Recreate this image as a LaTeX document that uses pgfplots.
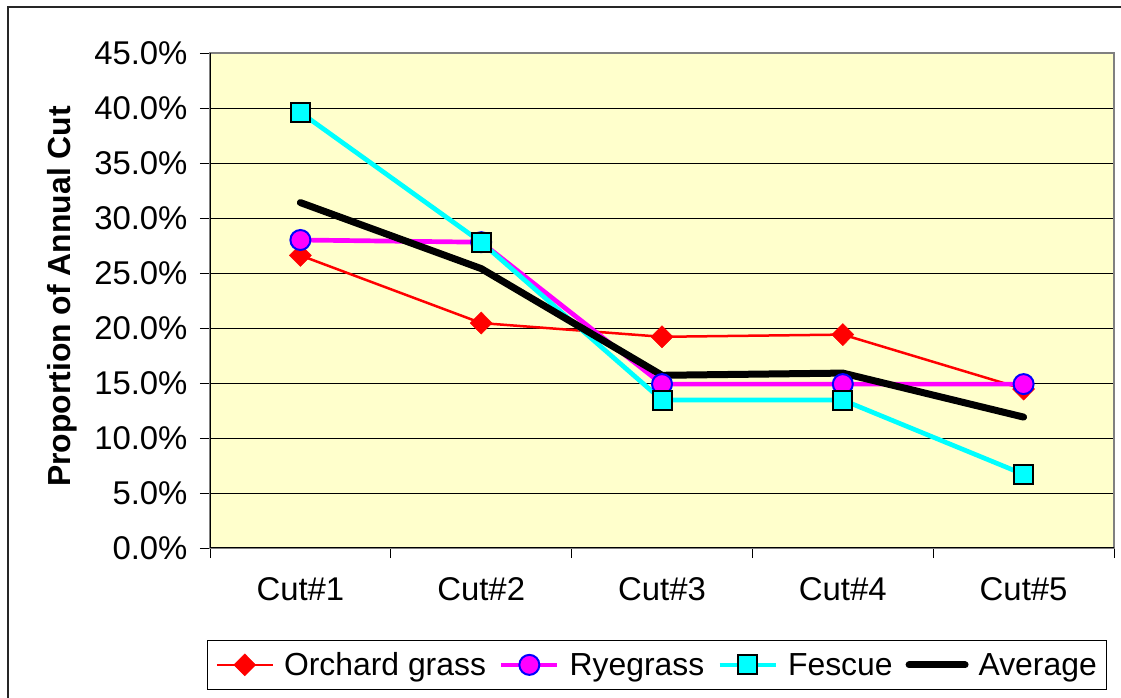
\documentclass[border=0pt]{standalone}
\usepackage{fontspec}
\setmainfont{Liberation Sans}
\usepackage{pgfplots}
\pgfplotsset{compat=1.18}
\definecolor{bgyellow}{HTML}{FFFFCC}
\definecolor{xred}{HTML}{FF0000}
\definecolor{xmag}{HTML}{FF00FF}
\definecolor{xcyan}{HTML}{00FFFF}
\definecolor{xblue}{HTML}{0000FF}
\begin{document}
\begin{tikzpicture}
\path[use as bounding box] (0,0) rectangle (1121bp,698bp);
\draw[line width=1.5bp, black!85] (8bp,0) -- (8bp,691bp) -- (1121bp,691bp);
\begin{axis}[
  at={(210bp,150bp)}, anchor=south west,
  scale only axis, width=904bp, height=495bp,
  xmin=0.5, xmax=5.5, ymin=0, ymax=45,
  axis background/.style={fill=bgyellow},
  axis line style={draw=gray, line width=1.2bp},
  /pgf/number format/assume math mode=true,
  ytick={0,5,...,45},
  yticklabel={\pgfmathprintnumber[fixed,fixed zerofill,precision=1]{\tick}\%},
  yticklabel style={xshift=-9bp, font=\fontsize{33}{39}\selectfont},
  ymajorgrids, grid style={black, line width=1bp},
  tick align=outside,
  xtick pos=bottom, ytick pos=left,
  major tick length=10bp, minor tick length=10bp,
  ytick style={black, line width=1bp},
  xtick={1,2,3,4,5},
  xticklabels={Cut\#1,Cut\#2,Cut\#3,Cut\#4,Cut\#5},
  major x tick style={draw=none},
  minor xtick={0.5,1.5,2.5,3.5,4.5,5.5},
  minor x tick style={black, line width=1bp},
  xticklabel style={yshift=-16bp, font=\fontsize{33}{39}\selectfont},
  ylabel={\bfseries Proportion of Annual Cut},
  every axis y label/.style={at={(axis description cs:-0.1637,0.508)}, rotate=90, anchor=center, font=\fontsize{32}{38}\selectfont},
  legend columns=4,
  legend style={at={(rel axis cs:-0.0033,-0.186)}, anchor=north west, draw=black, line width=1bp,
    font=\fontsize{32}{38}\selectfont, inner xsep=8bp, inner ysep=3.5bp,
    nodes={inner xsep=2bp, inner ysep=8.5bp},
    /tikz/every odd column/.append style={column sep=8bp},
    /tikz/every even column/.append style={column sep=11bp}},
  legend cell align=left,
  legend image code/.code={\draw[mark repeat=2,mark phase=2,#1] plot coordinates {(0bp,0bp) (28bp,0bp) (56bp,0bp)};},
]
\addplot[xred, line width=2.5bp, mark=diamond*, mark size=11bp, mark options={xscale=1.33, fill=xred, draw=xred, line width=0.5bp}]
  coordinates {(1,26.6)(2,20.45)(3,19.2)(4,19.4)(5,14.45)};
\addlegendentry{Orchard grass}
\addplot[xmag, line width=4.7bp, mark=*, mark size=10bp, mark options={fill=xmag, draw=xblue, line width=2bp}]
  coordinates {(1,28.0)(2,27.8)(3,14.9)(4,14.9)(5,14.9)};
\addlegendentry{Ryegrass}
\addplot[xcyan, line width=4.7bp, mark=square*, mark size=9.5bp, mark options={fill=xcyan, draw=black, line width=2bp}]
  coordinates {(1,39.6)(2,27.8)(3,13.45)(4,13.45)(5,6.7)};
\addlegendentry{Fescue}
\addplot[black, line width=7bp, line cap=round, line join=round]
  coordinates {(1,31.4)(2,25.4)(3,15.7)(4,15.9)(5,11.9)};
\addlegendentry{Average}
\draw[black, line width=1.2bp] (rel axis cs:0,0) -- (rel axis cs:0,1);
\draw[black, line width=1.2bp] (rel axis cs:0,0) -- (rel axis cs:1,0);
\end{axis}
\end{tikzpicture}
\end{document}
